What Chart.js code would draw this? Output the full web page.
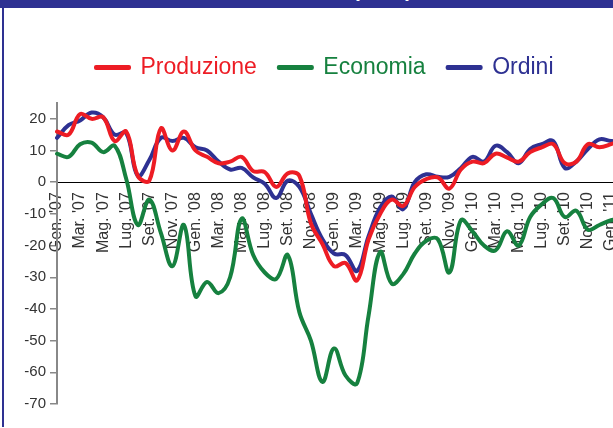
<!DOCTYPE html>
<html>
<head>
<meta charset="utf-8">
<script src="https://cdn.jsdelivr.net/npm/chart.js@4.4.1/dist/chart.umd.min.js"></script>
<style>
  html, body { margin: 0; padding: 0; background: #fff; width: 613px; height: 428px; overflow: hidden; }
  #wrap { position: relative; width: 613px; height: 428px; overflow: hidden; }
  #c { position: absolute; left: 0; top: 0; }
  #header { position: absolute; left: 0; top: 0; width: 613px; height: 8px; background: #2E3192; overflow: hidden; z-index: 2; }
  #header span { position: absolute; left: 353px; top: -20px; font: bold 20px/20px "Liberation Sans", Arial, sans-serif; color: #fff; white-space: nowrap; }
  #lborder { position: absolute; left: 2px; top: 8px; width: 2px; height: 419px; background: #2E3192; z-index: 2; }
</style>
</head>
<body>
<div id="wrap">
  <canvas id="c" width="650" height="428"></canvas>
  <div id="header"><span>(saldi)</span></div>
  <div id="lborder"></div>
</div>
<script>
const months = [
  "Gen. '07","Feb. '07","Mar. '07","Apr. '07","Mag. '07","Giu. '07","Lug. '07","Ago. '07","Set. '07","Ott. '07","Nov. '07","Dic. '07",
  "Gen. '08","Feb. '08","Mar. '08","Apr. '08","Mag. '08","Giu. '08","Lug. '08","Ago. '08","Set. '08","Ott. '08","Nov. '08","Dic. '08",
  "Gen. '09","Feb. '09","Mar. '09","Apr. '09","Mag. '09","Giu. '09","Lug. '09","Ago. '09","Set. '09","Ott. '09","Nov. '09","Dic. '09",
  "Gen. '10","Feb. '10","Mar. '10","Apr. '10","Mag. '10","Giu. '10","Lug. '10","Ago. '10","Set. '10","Ott. '10","Nov. '10","Dic. '10",
  "Gen. '11","Feb. '11"
];
const produzione = [16,15,21.5,20,20.5,13,16,2,0.5,17,10,16,10,8,6,6.5,8,3.5,3.2,-1.5,2.8,2,-13,-19.5,-26.5,-25.5,-31,-18,-10,-5.5,-7.5,-1.5,1,1.5,-2,4,6.5,6,9,7.8,6.5,9.5,11,12,6,6.5,12,11,12,13.5];
const economia = [9,8,12,12.5,9.5,11.5,1,-13.5,-5.5,-16,-26.5,-13.5,-36,-31.5,-35,-30,-11.5,-23,-28.5,-30.5,-23,-41,-50,-63,-52.5,-61,-63.5,-42,-22,-32,-29,-22.5,-18.5,-18,-28.5,-12,-15.5,-20,-21.5,-15.5,-20,-11,-7,-5,-11,-9,-15,-13.5,-12,-11.5];
const ordini = [14,18,19.5,22,20.5,15,15.5,2,7,14,13,14,11,10,6.5,4,4.5,1.5,-0.5,-5,0.5,-1.5,-10,-18,-22.5,-23,-28,-17,-8,-4.5,-8.5,0,2.5,1.7,1.7,4.5,8,6.5,11.5,9.5,6,10.5,12,13,4.5,6.5,10.5,13.5,13,13];
const seriesNames = ["Produzione","Economia","Ordini"];
const seriesColors = ["#ED1C24","#16813F","#2E3192"];
const yTicks = [-70,-60,-50,-40,-30,-20,-10,0,10,20];

const FONT = "'Liberation Sans', Arial, sans-serif";
const mk = (i, data) => ({
  label: seriesNames[i], data,
  borderColor: seriesColors[i], backgroundColor: seriesColors[i],
  borderWidth: 4, pointRadius: 0, tension: 0.4,
  borderJoinStyle: 'round', borderCapStyle: 'round'
});

new Chart(document.getElementById('c'), {
  type: 'line',
  data: {
    labels: months,
    datasets: [mk(0, produzione), mk(1, economia), mk(2, ordini)]
  },
  options: {
    responsive: false,
    animation: false,
    layout: { padding: { left: 27, right: 27.5, top: 34, bottom: 24 } },
    plugins: {
      tooltip: { enabled: false },
      legend: {
        position: 'top', weight: 3000,
        labels: {
          font: { family: FONT, size: 23 },
          boxWidth: 33, boxHeight: 1, padding: 22,
          generateLabels(chart) {
            const items = Chart.defaults.plugins.legend.labels.generateLabels(chart);
            items.forEach(it => {
              const col = seriesColors[it.datasetIndex];
              it.fontColor = col; it.fillStyle = col; it.strokeStyle = col; it.lineWidth = 4;
            });
            return items;
          }
        }
      },
      title: {
        display: true, text: '', weight: 2000,
        padding: { top: 0, bottom: 0 },
        font: { size: 14, lineHeight: 1 }
      }
    },
    scales: {
      x: {
        type: 'category',
        position: { y: 0 },
        offset: false,
        grid: { display: false, drawTicks: false },
        border: { display: true, color: '#000', width: 1 },
        ticks: {
          autoSkip: false, maxRotation: 90, minRotation: 90, padding: 10,
          color: '#333', font: { family: FONT, size: 16 },
          callback: (v, i) => (i % 2 === 0 ? months[i] : null)
        }
      },
      y: {
        min: -70, max: 25,
        afterFit: (s) => { s.width = 30; s._computeLabelArea = () => undefined; },
        afterBuildTicks: (s) => { s.ticks = yTicks.map(v => ({ value: v })); },
        grid: { display: true, drawOnChartArea: false, drawTicks: true, tickLength: 7, color: '#888', lineWidth: 1.5 },
        border: { display: true, color: '#888', width: 2 },
        ticks: { padding: 4, color: '#333', font: { family: FONT, size: 15 } }
      }
    }
  }
});
</script>
</body>
</html>
